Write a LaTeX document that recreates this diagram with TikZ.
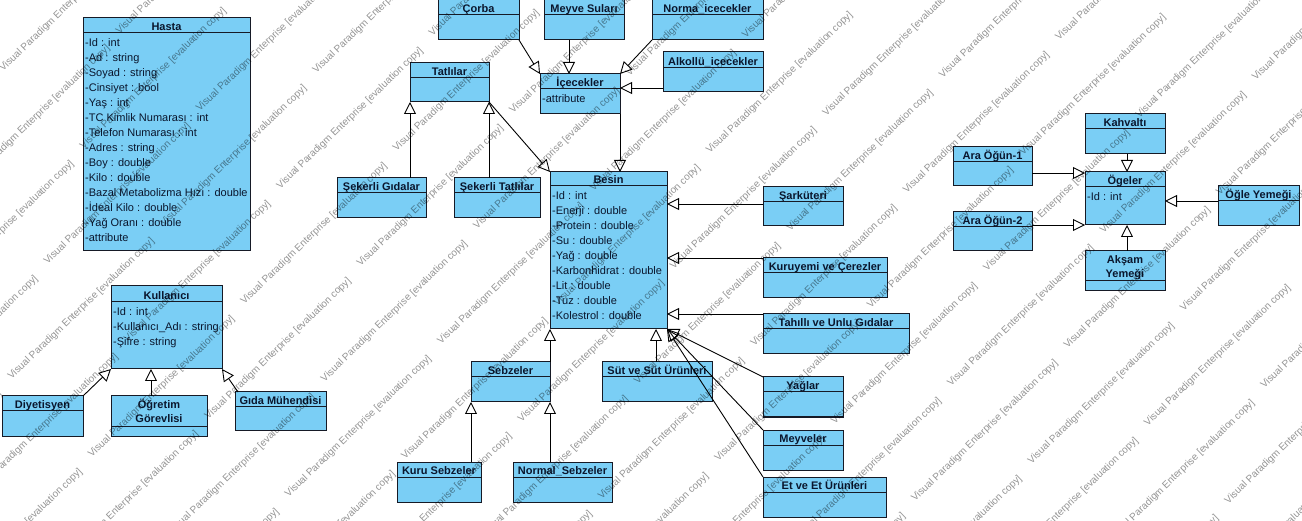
\documentclass[tikz,border=0pt]{standalone}
\usepackage{fontspec}
\setmainfont{Liberation Sans}
\usetikzlibrary{arrows.meta,calc}

\definecolor{clsfill}{RGB}{122,206,245}
\definecolor{clsdraw}{RGB}{22,26,38}
\definecolor{clstext}{RGB}{10,22,45}

\tikzset{
  clsbox/.style={draw=clsdraw, fill=clsfill, line width=1pt, rectangle,
    inner sep=0pt, outer sep=0pt, anchor=north west},
  sepline/.style={draw=clsdraw, line width=1pt},
  clstitle/.style={font=\fontsize{11}{14}\selectfont\bfseries, text=clstext,
    inner sep=0pt, anchor=base},
  clsattr/.style={font=\fontsize{11}{15}\selectfont, text=clstext,
    inner sep=0pt, anchor=base west},
  gen/.style={draw=black, line width=0.9pt,
    -{Triangle[open, length=12pt, width=12pt, line width=0.9pt]}},
  wmark/.style={font=\fontsize{10}{12}\selectfont, text=black, text opacity=0.42,
    rotate=44, anchor=base west, inner sep=0pt},
}

% class box: id, x1, y1, x2, y2, header height, title
\newcommand\umlclass[7]{%
  \node[clsbox, minimum width={(#4-(#2))*1pt}, minimum height={(#5-(#3))*1pt}] (#1) at (#2,#3) {};
  \draw[sepline] ($(#1.north west)+(0,#6)$) -- ($(#1.north east)+(0,#6)$);
  \node[clstitle] (#1-t) at ($(#1.north)+(0,#6-2.5)$) {#7};
}
% attribute rows: id, header height, list
\newcommand\umlattrs[3]{%
  \foreach \a [count=\i] in {#3} {
    \node[clsattr] (#1-a\i) at ($(#1.north west)+(2,#2+14+15*\i-15)$) {\a};
  }
}

\begin{document}
\begin{tikzpicture}[x=1pt, y=-1pt]
\fill[white] (0,0) rectangle (1302,521);
\useasboundingbox (0,0) rectangle (1302,521);

% ---- users and patients
\umlclass{hasta}{83}{18}{250}{251}{15}{Hasta}
\umlattrs{hasta}{15}{-Id : int,-Ad : string,-Soyad : string,-Cinsiyet : bool,-Yaş : int,-TC Kimlik Numarası : int,-Telefon Numarası : int,-Adres : string,-Boy : double,-Kilo : double,-Bazal Metabolizma Hızı : double,-İdeal Kilo : double,-Yağ Oranı : double,-attribute}

\umlclass{kul}{111}{286}{222}{369}{16}{Kullanıcı}
\umlattrs{kul}{16}{-Id : int,-Kullanıcı\_Adı : string,-Şifre : string}

\umlclass{diy}{2}{396}{83}{436}{15}{Diyetisyen}
\umlclass{ogr}{111}{396}{207}{436}{30}{}
\node[clstitle] (ogr-t1) at ($(ogr.north)+(0,13)$) {Öğretim};
\node[clstitle] (ogr-t2) at ($(ogr.north)+(0,27)$) {Görevlisi};
\umlclass{gida}{235}{392}{326}{430}{15}{Gıda Mühendisi}

% ---- drinks and desserts
\umlclass{corba}{438}{-1}{519}{40}{16}{Çorba}
\umlclass{meyve}{544}{-1}{624}{40}{16}{Meyve Suları}
\umlclass{norma}{652}{-1}{763}{40}{16}{Norma\_icecekler}
\umlclass{alk}{663}{52}{763}{92}{16}{Alkollü\_icecekler}
\umlclass{tatl}{410}{63}{489}{102}{15}{Tatlılar}
\umlclass{icec}{540}{74}{620}{114}{15}{İçecekler}
\umlattrs{icec}{15}{-attribute}

% ---- food
\umlclass{besin}{550}{172}{667}{329}{14}{Besin}
\umlattrs{besin}{14}{-Id : int,-Enerji : double,-Protein : double,-Su : double,-Yağ : double,-Karbonhidrat : double,-Lit : double,-Tuz : double,-Kolestrol : double}
\umlclass{sg}{337}{178}{426}{218}{15}{Şekerli Gıdalar}
\umlclass{st}{454}{178}{540}{218}{15}{Şekerli Tatlılar}
\umlclass{sark}{763}{187}{843}{226}{15}{Şarküteri}
\umlclass{kuru}{763}{258}{887}{298}{15}{Kuruyemi ve Çerezler}
\umlclass{tah}{763}{314}{909}{354}{15}{Tahıllı ve Unlu Gıdalar}
\umlclass{sebz}{471}{362}{550}{402}{15}{Sebzeler}
\umlclass{sut}{602}{362}{712}{402}{15}{Süt ve Süt Ürünleri}
\umlclass{yag}{763}{377}{843}{417}{15}{Yağlar}
\umlclass{meyv}{763}{430}{843}{470}{15}{Meyveler}
\umlclass{et}{763}{477}{886}{517}{15}{Et ve Et Ürünleri}
\umlclass{kurus}{397}{462}{481}{502}{15}{Kuru Sebzeler}
\umlclass{norms}{513}{462}{612}{502}{15}{Normal\_Sebzeler}

% ---- meals
\umlclass{kah}{1085}{114}{1165}{154}{15}{Kahvaltı}
\umlclass{ara1}{953}{147}{1032}{186}{15}{Ara Öğün-1}
\umlclass{oge}{1085}{172}{1165}{225}{15}{Ögeler}
\umlattrs{oge}{15}{-Id : int}
\umlclass{ogle}{1218}{186}{1299}{226}{15}{Öğle Yemeği}
\umlclass{ara2}{953}{212}{1032}{251}{15}{Ara Öğün-2}
\umlclass{aks}{1085}{251}{1165}{291}{30}{}
\node[clstitle] (aks-t1) at ($(aks.north)+(0,13)$) {Akşam};
\node[clstitle] (aks-t2) at ($(aks.north)+(0,27)$) {Yemeği};

% ---- generalizations
\draw[gen] (diy.north east) -- (kul.south west);
\coordinate (ogr-c) at ([xshift=40pt]ogr.north west);
\draw[gen] (ogr-c) -- (ogr-c |- kul.south);
\draw[gen] ([xshift=3pt]gida.north west) -- (kul.south east);

\draw[gen] (corba.south east) -- (icec.north west);
\coordinate (meyve-c) at ([xshift=25pt]meyve.south west);
\draw[gen] (meyve-c) -- (meyve-c |- icec.north);
\draw[gen] (norma.south west) -- (icec.north east);
\coordinate (alk-c) at ([yshift=4pt]alk.south west);
\draw[gen] (alk-c) -- (alk-c -| icec.east);
\draw[gen] (icec.south east) -- (icec.south east |- besin.north);

\draw[gen] (tatl.south east) -- (besin.north west);
\draw[gen] (tatl.south west |- sg.north) -- (tatl.south west);
\draw[gen] (tatl.south east |- st.north) -- (tatl.south east);

\coordinate (sark-c) at ([yshift=-17pt]sark.north west);
\draw[gen] (sark-c) -- (sark-c -| besin.east);
\draw[gen] (kuru.north west) -- (kuru.north west -| besin.east);
\draw[gen] (tah.north west) -- (tah.north west -| besin.east);
\draw[gen] (sebz.north east) -- (sebz.north east |- besin.south);
\coordinate (sut-c) at ([xshift=54pt]sut.north west);
\draw[gen] (sut-c) -- (sut-c |- besin.south);
\draw[gen] (yag.north west) -- (besin.south east);
\draw[gen] (meyv.north west) -- (besin.south east);
\draw[gen] (et.north west) -- (besin.south east);
\draw[gen] (sebz.south west |- kurus.north) -- (sebz.south west);
\draw[gen] (sebz.south east |- norms.north) -- (sebz.south east);

\coordinate (kah-c) at ([xshift=42pt]kah.south west);
\draw[gen] (kah-c) -- (kah-c |- oge.north);
\coordinate (ara1-c) at ([yshift=-26pt]ara1.north east);
\draw[gen] (ara1-c) -- (ara1-c -| oge.west);
\coordinate (ara2-c) at ([yshift=-13pt]ara2.north east);
\draw[gen] (ara2-c) -- (ara2-c -| oge.west);
\coordinate (ogle-c) at ([yshift=-15pt]ogle.north west);
\draw[gen] (ogle-c) -- (ogle-c -| oge.east);
\coordinate (aks-c) at ([xshift=42pt]aks.north west);
\draw[gen] (aks-c) -- (aks-c |- oge.south);

% ---- evaluation watermark, tiled over the sheet
\foreach \m in {-14,...,4}{
  \foreach \n in {-3,...,10}{
    \pgfmathsetmacro\wx{915+116.4*\m+36*\n}
    \pgfmathsetmacro\wy{502-37.7*\m-115.3*\n}
    \pgfmathsetmacro\wok{(\wx>-160)&&(\wx<1300)&&(\wy>0)&&(\wy<660)}
    \ifdim\wok pt>0.5pt
      \node[wmark] (wm\m_\n) at (\wx,\wy) {Visual Paradigm Enterprise [evaluation copy]};
    \fi
  }
}
\end{tikzpicture}
\end{document}
